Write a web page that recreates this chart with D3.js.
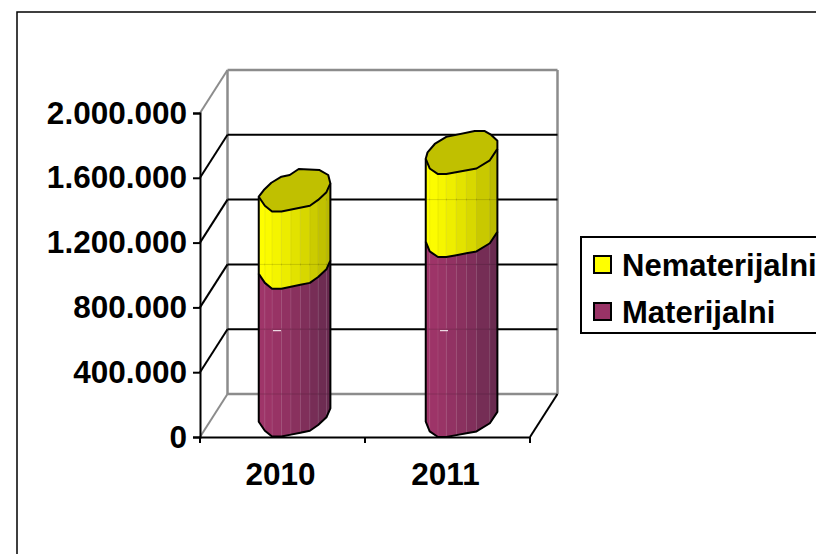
<!DOCTYPE html>
<html>
<head>
<meta charset="utf-8">
<script src="https://cdn.jsdelivr.net/npm/d3@7"></script>
<style>
  html, body { margin: 0; padding: 0; background: #fff; overflow: hidden; }
  text { font-family: "Liberation Sans", Arial, sans-serif; font-weight: bold; fill: #000; }
</style>
</head>
<body>
<svg class="chart" width="816" height="554"></svg>
<script>
let categories = ['2010', '2011']
let materijalni = [913000, 1111000]
let nematerijalni = [476000, 512000]
let yTicks = [0, 400000, 800000, 1200000, 1600000, 2000000]
let legendNames = ['Nematerijalni', 'Materijalni']

// lumpy cross section of each cylinder, in -1..1 of its width and depth, front part first
let sections = {
  '2010': [[-1, .29], [-.83, .71], [-.63, .98], [-.37, .98], [.42, .71], [.65, .44], [.88, .08], [.99, -.33],
           [.93, -.72], [.69, -.95], [.11, -1], [-.14, -.72], [-.37, -.64], [-.65, -.36], [-.86, -.02]],
  '2011': [[-1, .29], [-.89, .74], [-.66, 1], [-.43, 1], [.41, .74], [.78, .36], [.99, -.17],
           [.99, -.55], [.82, -.82], [.64, -1], [.36, -1], [-.43, -.73], [-.75, -.4], [-.95, -.01]]
}
let frontCount = { '2010': 8, '2011': 7 }

let svg = d3.select('.chart')

// outer frame runs off the right and bottom of the picture
svg.append('rect').attr('x', 17).attr('y', 12).attr('width', 900).attr('height', 700)
    .attr('fill', '#fff').attr('stroke', '#000').attr('stroke-width', 1.5)

let x = d3.scaleBand().domain(categories).range([200, 530])
let xBar = d3.scaleBand().domain(categories).range([198.5, 532.5])
let y = d3.scaleLinear().domain([0, 2000000]).range([437, 113])

// depth of the 3d box
let depthX = 27.5
let depthY = 43
let grey = '#8c8c8c'
let halfWidth = 36

let line = (g, x1, y1, x2, y2, color, w) => g.append('line')
    .attr('x1', x1).attr('y1', y1).attr('x2', x2).attr('y2', y2)
    .attr('stroke', color).attr('stroke-width', w)

// walls
let walls = svg.append('g')
line(walls, 200 + depthX, y(2000000) - depthY, 530 + depthX, y(2000000) - depthY, grey, 2.5)
line(walls, 200 + depthX, y(2000000) - depthY, 200 + depthX, y(0) - depthY, grey, 2.5)
line(walls, 530 + depthX, y(2000000) - depthY, 530 + depthX, y(0) - depthY, grey, 2.5)
line(walls, 200 + depthX, y(0) - depthY, 530 + depthX, y(0) - depthY, grey, 2.5)
line(walls, 200, y(0), 200 + depthX, y(0) - depthY, grey, 2)
line(walls, 200, y(2000000), 200 + depthX, y(2000000) - depthY, grey, 2)
line(walls, 530, y(0), 530 + depthX, y(0) - depthY, '#000', 2)

yTicks.slice(1, -1).forEach(t => {
  line(walls, 200, y(t), 200 + depthX, y(t) - depthY, '#000', 2)
  line(walls, 200 + depthX, y(t) - depthY, 530 + depthX, y(t) - depthY, '#000', 2)
})

let barCenter = cat => xBar(cat) + xBar.bandwidth() / 2 + depthX / 2 - 1

function corner(cat, value, p) {
  return [
    barCenter(cat) + halfWidth * p[0],
    y(value) - depthY / 2 + depthY / 2 * p[1]
  ]
}

// split long front edges so the shading gets even bands
function frontBands(cat) {
  let pts = sections[cat].slice(0, frontCount[cat])
  let out = [pts[0]]
  d3.pairs(pts).forEach(p => {
    let n = Math.max(1, Math.round((p[1][0] - p[0][0]) / 0.26))
    d3.range(1, n + 1).forEach(k => {
      out.push([p[0][0] + (p[1][0] - p[0][0]) * k / n, p[0][1] + (p[1][1] - p[0][1]) * k / n])
    })
  })
  return out
}

let pathLine = d3.line()

function drawSegment(g, cat, from, to, bright, dark, seam, cap) {
  let front = frontBands(cat)
  d3.pairs(front).forEach(p => {
    let a = corner(cat, from, p[0]), b = corner(cat, from, p[1])
    let c = corner(cat, to, p[1]), d = corner(cat, to, p[0])
    let color = d3.interpolateRgb(bright, dark)(Math.pow((p[0][0] + p[1][0] + 2) / 4, 1.4))
    g.append('path').attr('d', pathLine([a, b, c, d]) + 'Z')
        .attr('fill', color).attr('stroke', color).attr('stroke-width', 0.5)
    // faint seam between the bands
    g.append('line').attr('x1', d[0]).attr('y1', d[1]).attr('x2', a[0]).attr('y2', a[1])
        .attr('stroke', seam).attr('stroke-width', 1)
  })
  let outline = [corner(cat, to, front[0])]
    .concat(front.map(p => corner(cat, from, p)))
    .concat([corner(cat, to, front[front.length - 1])])
  g.append('path').attr('d', pathLine(outline))
      .attr('fill', 'none').attr('stroke', '#000').attr('stroke-width', 2).attr('stroke-linejoin', 'round')
  if (cap) {
    g.append('path').attr('d', pathLine(sections[cat].map(p => corner(cat, to, p))) + 'Z')
        .attr('fill', cap).attr('stroke', '#000').attr('stroke-width', 2).attr('stroke-linejoin', 'round')
  }
}

categories.forEach((cat, i) => {
  let g = svg.append('g')
  let total = materijalni[i] + nematerijalni[i]
  drawSegment(g, cat, 0, materijalni[i], '#a03569', '#652a4e', 'rgba(255,255,255,0.1)', null)
  drawSegment(g, cat, materijalni[i], total, '#ffff00', '#b5b500', 'rgba(120,120,0,0.1)', '#c0c000')

  // back wall lines show through the bar very faintly
  yTicks.slice(0, -1).forEach(t => {
    if (y(t) - depthY > y(total) + 2) {
      line(g, barCenter(cat) - halfWidth + 1, y(t) - depthY, barCenter(cat) + halfWidth - 1, y(t) - depthY, '#000', 1)
        .attr('stroke-opacity', 0.14)
    }
  })

  // small white dash on the bar
  let cx = xBar(cat) + xBar.bandwidth() / 2
  g.append('line').attr('x1', cx - 9).attr('x2', cx - 1)
      .attr('y1', y(400000) - depthY + 1.5).attr('y2', y(400000) - depthY + 1.5)
      .attr('stroke', '#fff').attr('stroke-width', 1)
})

// axes
let fmt = d3.formatLocale({ decimal: ',', thousands: '.', grouping: [3], currency: ['', ''] }).format(',d')

let yAxis = svg.append('g').attr('transform', 'translate(200,0)')
    .call(d3.axisLeft(y).tickValues(yTicks).tickFormat(fmt).tickSize(7).tickPadding(6))
let xAxis = svg.append('g').attr('transform', 'translate(-2,' + y(0) + ')')
    .call(d3.axisBottom(x).tickSize(0).tickPadding(26))

yAxis.selectAll('.domain').attr('stroke', '#000').attr('stroke-width', 2)
xAxis.selectAll('.domain').attr('transform', 'translate(2,0)').attr('stroke', '#000').attr('stroke-width', 2)
yAxis.selectAll('.tick line').attr('stroke', '#000').attr('stroke-width', 2)
yAxis.selectAll('text').attr('font-size', 31.5).attr('font-family', '"Liberation Sans"').attr('font-weight', 'bold')
xAxis.selectAll('text').attr('font-size', 31.5).attr('font-family', '"Liberation Sans"').attr('font-weight', 'bold')

// x ticks sit between the categories
x.domain().concat(['end']).forEach((c, i) => {
  let px = 200 + i * x.bandwidth()
  line(svg, px, y(0), px, y(0) + 6, '#000', 2)
})

// legend
let legend = svg.append('g')
legend.append('rect').attr('x', 581).attr('y', 237).attr('width', 300).attr('height', 96)
    .attr('fill', '#fff').attr('stroke', '#000').attr('stroke-width', 2)

let legendColors = ['#ffff00', '#993366']
legendNames.forEach((name, i) => {
  legend.append('rect').attr('x', 594).attr('y', 256 + i * 47).attr('width', 17).attr('height', 17)
      .attr('fill', legendColors[i]).attr('stroke', '#000').attr('stroke-width', 2)
  legend.append('text').attr('x', 622).attr('y', 276 + i * 47).attr('font-size', 31).text(name)
})
</script>
</body>
</html>
